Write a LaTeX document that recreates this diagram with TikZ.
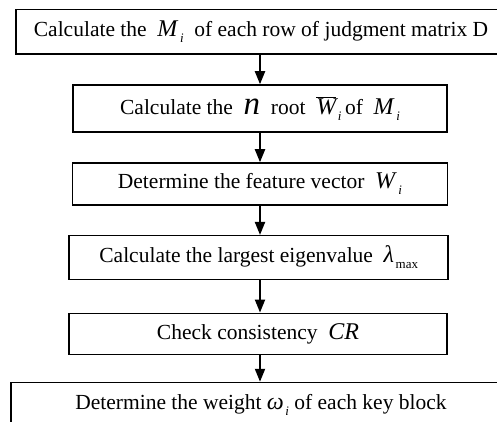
\documentclass[tikz,border=0pt]{standalone}
\usepackage{fontspec}
\setmainfont{Liberation Serif}
\usetikzlibrary{arrows.meta,positioning}

\newcommand{\isub}[2]{\textit{#1}\kern1.5pt\raisebox{-0.6ex}{\fontsize{13}{13}\selectfont\itshape #2}}
\newcommand{\bigsym}[1]{{\fontsize{24}{24}\selectfont\textit{#1}}}

\begin{document}
\begin{tikzpicture}[x=1pt,y=-1pt,
	stepbox/.style={draw, line width=1.5pt, rectangle, inner sep=0pt, font=\fontsize{21.5}{25}\selectfont},
	flow/.style={-{Triangle[length=13pt,width=10pt]}, line width=2pt}]
	\useasboundingbox (0,0) rectangle (497,422);
	\node[stepbox, minimum width=490, minimum height=44.7] (mi) at (261,31.7) {Calculate the \ \isub{\bigsym{M}}{i}\ \ of each row of judgment matrix D};
	\node[stepbox, minimum width=374, minimum height=47] (root) at (260,108.5) {Calculate the \ {\fontsize{33}{33}\selectfont\textit{n}}\ \ root \ \isub{$\overline{\hbox{\bigsym{W}}}$}{i}\,of \ \isub{\bigsym{M}}{i}};
	\node[stepbox, minimum width=375, minimum height=42] (vec) at (260,184) {Determine the feature vector \ \isub{\bigsym{W}}{i}};
	\node[stepbox, minimum width=379, minimum height=43.6] (eig) at (258.7,257.5) {Calculate the largest eigenvalue \ \isub{\bigsym{λ}}{\upshape max}};
	\node[stepbox, minimum width=378, minimum height=41] (cr) at (258,333.8) {Check consistency \ \bigsym{CR}};
	\node[stepbox, minimum width=500, minimum height=45] (wt) at (261,405) {Determine the weight \isub{\bigsym{ω}}{i} of each key block};

	\draw[flow] (root.north |- mi.south) -- (root.north);
	\draw[flow] (root.south) -- (vec.north);
	\draw[flow] (vec.south) -- (vec.south |- eig.north);
	\draw[flow] (vec.south |- eig.south) -- (vec.south |- cr.north);
	\draw[flow] (vec.south |- cr.south) -- (vec.south |- wt.north);
\end{tikzpicture}
\end{document}
